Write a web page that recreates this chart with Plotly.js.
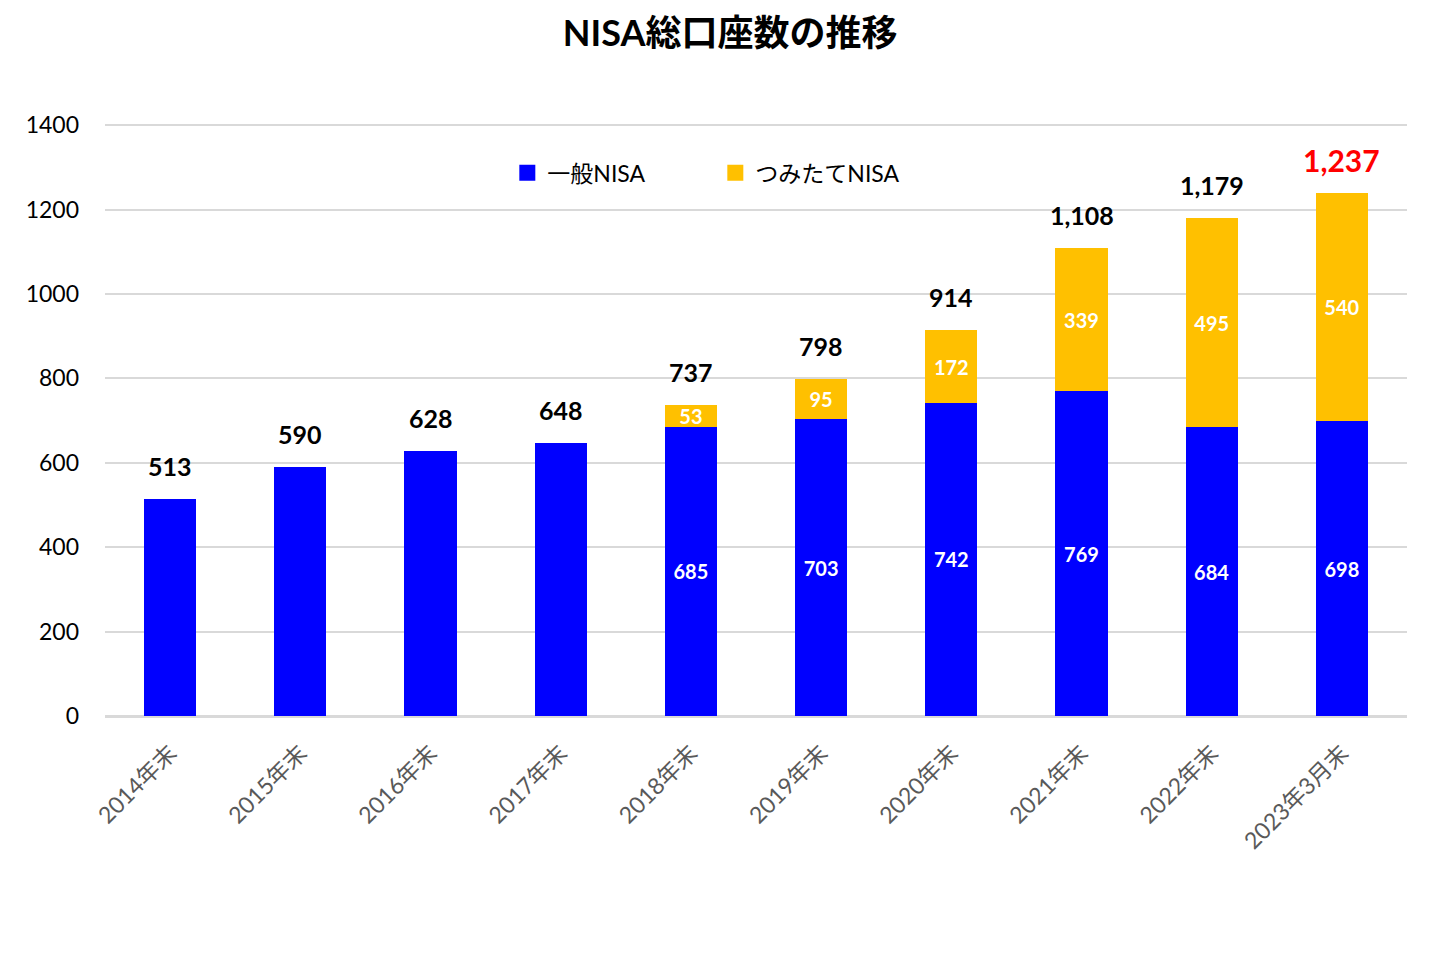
<!DOCTYPE html>
<html>
<head>
<meta charset="utf-8">
<script src="https://cdn.plot.ly/plotly-3.0.1.min.js"></script>
<style>html,body{margin:0;padding:0;background:#fff;}#chart{width:1440px;height:953px;}</style>
</head>
<body>
<div id="chart"></div>
<script>
const categories = ["2014年末","2015年末","2016年末","2017年末","2018年末","2019年末","2020年末","2021年末","2022年末","2023年3月末"];
const ippanNISA = [513, 590, 628, 648, 685, 703, 742, 769, 684, 698];
const tsumitateNISA = [0, 0, 0, 0, 53, 95, 172, 339, 495, 540];
const totals = [513, 590, 628, 648, 737, 798, 914, 1108, 1179, 1237];
const totalLabels = ["513","590","628","648","737","798","914","1,108","1,179","1,237"];
const yTicks = [0, 200, 400, 600, 800, 1000, 1200, 1400];
const seriesNames = ["一般NISA", "つみたてNISA"];
const seriesColors = ["#0000FF", "#FFC000"];

const FONT = "Lato, 'Noto Sans CJK JP', sans-serif";

const ippanText = ippanNISA.map((v, i) => tsumitateNISA[i] > 0 ? String(v) : "");
const tsumiText = tsumitateNISA.map(v => v > 0 ? String(v) : "");

const traces = [
  {
    type: "bar", name: seriesNames[0], x: categories, y: ippanNISA,
    marker: {color: seriesColors[0]}, showlegend: false,
    text: ippanText, textposition: "inside", insidetextanchor: "middle", textangle: 0,
    textfont: {color: "#FFFFFF", size: 20, family: FONT, weight: "bold"}
  },
  {
    type: "bar", name: seriesNames[1], x: categories, y: tsumitateNISA,
    marker: {color: seriesColors[1]}, showlegend: false,
    text: tsumiText, textposition: "inside", insidetextanchor: "middle", textangle: 0,
    textfont: {color: "#FFFFFF", size: 20, family: FONT, weight: "bold"}
  },
  {
    type: "scatter", mode: "markers", name: seriesNames[0], x: [null], y: [null],
    marker: {symbol: "square", size: 16, color: seriesColors[0]}, showlegend: true
  },
  {
    type: "scatter", mode: "markers", name: seriesNames[1], x: [null], y: [null],
    marker: {symbol: "square", size: 16, color: seriesColors[1]}, showlegend: true
  }
];

const annotations = categories.map((c, i) => {
  const last = i === categories.length - 1;
  return {
    x: c, y: totals[i], xref: "x", yref: "y",
    text: totalLabels[i], showarrow: false,
    yanchor: "bottom", yshift: last ? 14 : 16,
    font: {family: FONT, size: last ? 30 : 25, color: last ? "#FF0000" : "#000000", weight: "bold"}
  };
});

const layout = {
  width: 1440, height: 953,
  paper_bgcolor: "#FFFFFF", plot_bgcolor: "#FFFFFF",
  margin: {l: 105, r: 33, t: 123, b: 237},
  barmode: "stack", bargap: 0.6,
  title: {
    text: "<b>NISA総口座数の推移</b>",
    x: 0.507, xanchor: "center", y: 0.965, yanchor: "middle",
    font: {family: FONT, size: 36, color: "#000000"}
  },
  font: {family: FONT},
  showlegend: true,
  legend: {
    orientation: "h", x: 0.309, xanchor: "left", y: 0.916, yanchor: "middle",
    font: {family: FONT, size: 23, color: "#000000"},
    entrywidth: 163, entrywidthmode: "pixels",
    itemwidth: 30, traceorder: "normal",
    bgcolor: "rgba(0,0,0,0)"
  },
  xaxis: {
    type: "category", tickangle: -45,
    tickfont: {family: FONT, size: 23, color: "#595959"},
    showgrid: false, showline: false, ticks: "", ticklabelstandoff: 18
  },
  yaxis: {
    range: [0, 1405], tickvals: yTicks, ticktext: yTicks.map(String),
    tickfont: {family: FONT, size: 23, color: "#000000"},
    showgrid: true, gridcolor: "#D9D9D9", gridwidth: 2,
    zeroline: true, zerolinecolor: "#D9D9D9", zerolinewidth: 3,
    showline: false, ticks: "", ticklabelstandoff: 25
  },
  uniformtext: {mode: "show", minsize: 20},
  annotations: annotations
};

Plotly.newPlot("chart", traces, layout, {displayModeBar: false, staticPlot: true});
</script>
</body>
</html>
